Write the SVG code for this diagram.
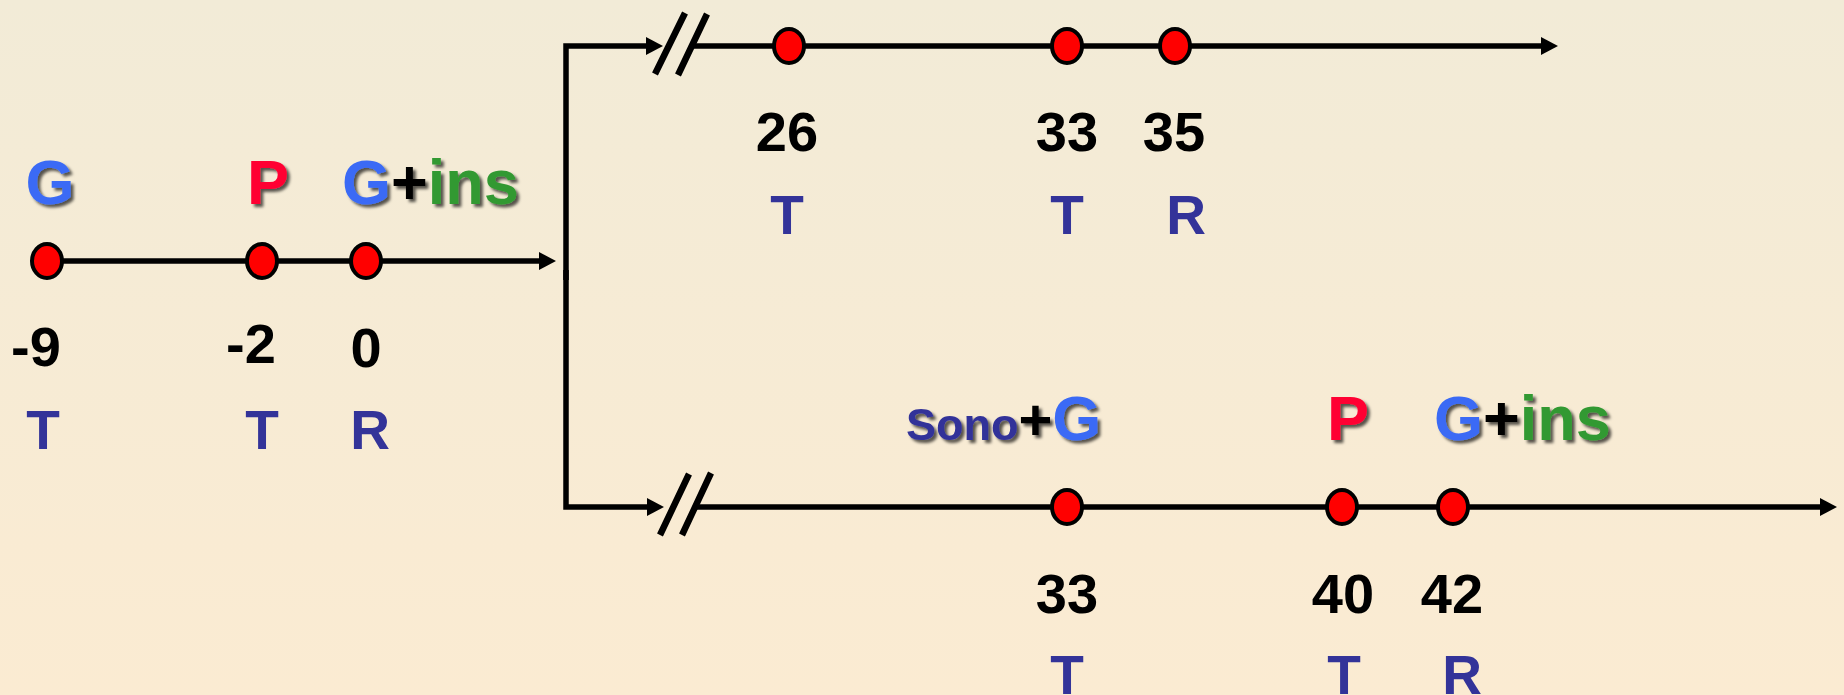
<svg xmlns="http://www.w3.org/2000/svg" width="1844" height="695" viewBox="0 0 1844 695">
<defs>
<linearGradient id="bg" x1="0" y1="0" x2="0" y2="1">
<stop offset="0" stop-color="#F2EBD7"/>
<stop offset="1" stop-color="#FBEBD2"/>
</linearGradient>
<marker id="arr" markerUnits="userSpaceOnUse" markerWidth="18" markerHeight="18" refX="7" refY="9" orient="auto">
<path d="M0,0 L17,9 L0,18 z" fill="#000"/>
</marker>
<filter id="sh" x="-20%" y="-20%" width="140%" height="140%">
<feDropShadow dx="3" dy="3" stdDeviation="1.6" flood-color="#000" flood-opacity="0.65"/>
</filter>
<style>
.ln{stroke:#000;stroke-width:5.5;fill:none}
.brk{stroke:#000;stroke-width:6.5;fill:none}
.dot{fill:#FF0000;stroke:#000;stroke-width:4}
.lab{font-family:"Liberation Sans",Arial,sans-serif;font-weight:bold;font-size:63px;filter:url(#sh)}
.num{font-family:"Liberation Sans",Arial,sans-serif;font-weight:bold;font-size:56px;fill:#000;text-anchor:middle}
.tr{font-family:"Liberation Sans",Arial,sans-serif;font-weight:bold;font-size:55px;fill:#333399;text-anchor:middle}
.g{fill:#3A6BF5}
.p{fill:#FF0033}
.k{fill:#000}
.ins{fill:#339933}
.sono{fill:#333399}
</style>
</defs>
<rect width="1844" height="695" fill="url(#bg)"/>

<g id="connectors">
<path class="ln" d="M47,261 H546" marker-end="url(#arr)"/>
<path class="ln" d="M566,280 V46 H653" marker-end="url(#arr)"/>
<path class="ln" d="M566,270 V507 H654" marker-end="url(#arr)"/>
<path class="brk" d="M685,13 L655,74 M707,14 L678,75"/>
<path class="brk" d="M689,474 L660,535 M711,473 L682,535"/>
<path class="ln" d="M692,46 H1548" marker-end="url(#arr)"/>
<path class="ln" d="M696,507 H1827" marker-end="url(#arr)"/>
</g>

<g id="n-m9">
<ellipse class="dot" cx="47" cy="261" rx="15" ry="17"/>
<text class="lab g" x="50" y="204" text-anchor="middle">G</text>
<text class="num" x="36" y="366">-9</text>
<text class="tr" x="43" y="449">T</text>
</g>
<g id="n-m2">
<ellipse class="dot" cx="262" cy="261" rx="15" ry="17"/>
<text class="lab p" x="268" y="204" text-anchor="middle">P</text>
<text class="num" x="251" y="363">-2</text>
<text class="tr" x="262" y="449">T</text>
</g>
<g id="n-0">
<ellipse class="dot" cx="366" cy="261" rx="15" ry="17"/>
<text class="lab" x="342" y="204"><tspan class="g">G</tspan><tspan class="k">+</tspan><tspan class="ins">ins</tspan></text>
<text class="num" x="366" y="367">0</text>
<text class="tr" x="370" y="449">R</text>
</g>

<g id="n-26">
<ellipse class="dot" cx="789" cy="46" rx="15" ry="17"/>
<text class="num" x="787" y="151">26</text>
<text class="tr" x="787" y="234">T</text>
</g>
<g id="n-33a">
<ellipse class="dot" cx="1067" cy="46" rx="15" ry="17"/>
<text class="num" x="1067" y="151">33</text>
<text class="tr" x="1067" y="234">T</text>
</g>
<g id="n-35">
<ellipse class="dot" cx="1175" cy="46" rx="15" ry="17"/>
<text class="num" x="1174" y="151">35</text>
<text class="tr" x="1186" y="234">R</text>
</g>

<g id="n-33b">
<ellipse class="dot" cx="1067" cy="507" rx="15" ry="17"/>
<text class="lab" x="906" y="440"><tspan class="sono" font-size="45">Sono</tspan><tspan class="k" font-size="58">+</tspan><tspan class="g">G</tspan></text>
<text class="num" x="1067" y="613">33</text>
<text class="tr" x="1067" y="694">T</text>
</g>
<g id="n-40">
<ellipse class="dot" cx="1342" cy="507" rx="15" ry="17"/>
<text class="lab p" x="1348" y="440" text-anchor="middle">P</text>
<text class="num" x="1343" y="613">40</text>
<text class="tr" x="1344" y="694">T</text>
</g>
<g id="n-42">
<ellipse class="dot" cx="1453" cy="507" rx="15" ry="17"/>
<text class="lab" x="1434" y="440"><tspan class="g">G</tspan><tspan class="k">+</tspan><tspan class="ins">ins</tspan></text>
<text class="num" x="1452" y="613">42</text>
<text class="tr" x="1462" y="694">R</text>
</g>
</svg>
